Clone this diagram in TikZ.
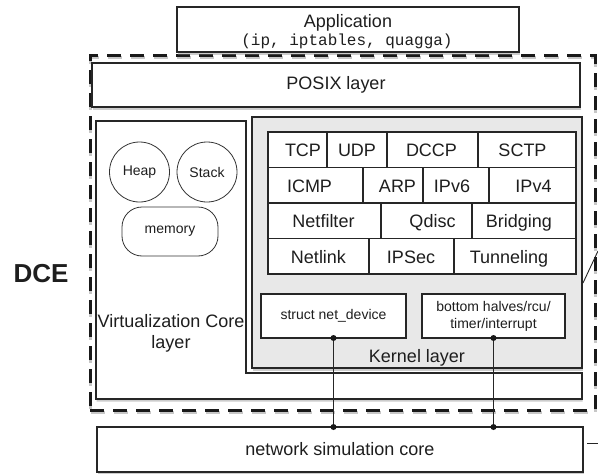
\documentclass[tikz,border=0pt]{standalone}
\usepackage{fontspec}
\setmainfont{Liberation Sans}
\setmonofont{Liberation Mono}
\usetikzlibrary{shadows}

\definecolor{kgray}{HTML}{E8E8E8}
\definecolor{ink}{HTML}{1E1E1E}

% one cell of the protocol grid: name, centre x, width, row centre y, text, text offset
\newcommand\protocell[6]{%
  \node[cellbox, minimum width=#3pt] (#1) at (#2,#4) {};
  \node[big, anchor=base] (#1-t) at ([xshift=#6pt, yshift=-7pt]#1.center) {#5};
}

\begin{document}
\begin{tikzpicture}[x=1pt, y=-1pt,
  every node/.style={inner sep=0pt, outer sep=0pt, text=ink},
  big/.style={font=\fontsize{18}{21}\selectfont},
  small/.style={font=\fontsize{14}{17}\selectfont},
  shade/.style={drop shadow={shadow xshift=0.6pt, shadow yshift=-2.6pt, opacity=0.4}},
  frame/.style={draw=black!85, line width=1.1pt, fill=white},
  cellbox/.style={draw=black!85, line width=1.1pt, fill=white, minimum height=35.5pt},
  thin/.style={draw=black!80, line width=0.8pt},
  dceline/.style={dash pattern=on 14pt off 9pt, line width=3pt},
  link/.style={draw=black!85, line width=1.3pt}
]
\fill[white] (0,0) rectangle (598,474);
\useasboundingbox (0,0) rectangle (598,474);

% DCE boundary, with a soft shadow copy underneath
\node[draw=black!22, dceline, minimum width=505pt, minimum height=355pt] (dceshadow) at (343,235) {};
\node[draw=black!90, dceline, minimum width=505pt, minimum height=355pt] (dce) at (342.5,232.5) {};
\node[font=\fontsize{26}{30}\selectfont\bfseries] (dcelabel) at (41,274) {DCE};

% application on top
\node[frame, shade, minimum width=342pt, minimum height=45pt] (app) at (348,29.5) {};
\node[big, anchor=base] (appname) at (348,27) {Application};
\node[font=\ttfamily\fontsize{16}{18}\selectfont, anchor=base] (apptools) at (347,45) {(ip, iptables, quagga)};

% POSIX layer
\node[frame, shade, big, minimum width=488pt, minimum height=44pt] (posix) at (336,85) {POSIX layer};

% virtualization core layer (L-shaped, wraps the kernel on the left and below)
\path[frame, shade] (96,121) -- (246,121) -- (246,373) -- (582,373) -- (582,399) -- (96,399) -- cycle;
\node[big, align=center] (virt) at (171,333) {Virtualization Core\\layer};
\node[thin, circle, minimum size=60pt, small] (heap) at (139.5,172) {Heap};
\node[thin, circle, minimum size=60pt, small] (stack) at (207,172) {Stack};
\node[thin, rounded corners=20pt, minimum width=96pt, minimum height=49pt, small] (mem) at (170,231.5) {memory};

% kernel layer
\node[draw=black!85, line width=1.1pt, fill=kgray, shade, minimum width=330pt, minimum height=251pt] (kernel) at (417,242.5) {};
\node[big, anchor=base] (klabel) at (417,362) {Kernel layer};

% protocol grid
\protocell{tcp}{297.5}{59}{149.75}{TCP}{5.5}
\protocell{udp}{357}{60}{149.75}{UDP}{0}
\protocell{dccp}{432.5}{91}{149.75}{DCCP}{-1}
\protocell{sctp}{527}{98}{149.75}{SCTP}{-4.5}
\protocell{icmp}{315.5}{95}{185.25}{ICMP}{-6}
\protocell{arp}{393}{60}{185.25}{ARP}{4.5}
\protocell{ipvsix}{456}{66}{185.25}{IPv6}{-4}
\protocell{ipvfour}{532.5}{87}{185.25}{IPv4}{1}
\protocell{netfilter}{324.5}{113}{220.75}{Netfilter}{-1}
\protocell{qdisc}{426.5}{91}{220.75}{Qdisc}{6}
\protocell{bridging}{524}{104}{220.75}{Bridging}{-5}
\protocell{netlink}{318.5}{101}{256.25}{Netlink}{0}
\protocell{ipsec}{411.5}{85}{256.25}{IPSec}{-0.5}
\protocell{tunneling}{515}{122}{256.25}{Tunneling}{-6}

% device and deferred-work boxes
\node[frame, small, minimum width=145pt, minimum height=44pt] (netdev) at (333.5,316) {struct net\_device};
\node[frame, small, minimum width=143pt, minimum height=44pt, align=center] (bh) at (493.5,316)
  {bottom halves/rcu/\\timer/interrupt};

% simulator core below the DCE boundary
\node[frame, shade, big, minimum width=486pt, minimum height=45pt] (core) at (340,449.5) {network simulation core};

% links from kernel glue to the simulator
\draw[link] (netdev.south) -- (netdev.south |- core.north);
\draw[link] (bh.south) -- (bh.south |- core.north);
\fill[black!90] (netdev.south) circle (3pt) (netdev.south |- core.north) circle (3pt);
\fill[black!90] (bh.south) circle (3pt) (bh.south |- core.north) circle (3pt);

% connectors leaving the frame on the right
\coordinate (outa) at (583,283);
\coordinate (outb) at (598,251);
\coordinate (outc) at (587,443);
\coordinate (outd) at (598,443);
\draw[black!85, line width=0.9pt] (outa) -- (outb);
\draw[black!85, line width=0.9pt] (outc) -- (outd);
\end{tikzpicture}
\end{document}
